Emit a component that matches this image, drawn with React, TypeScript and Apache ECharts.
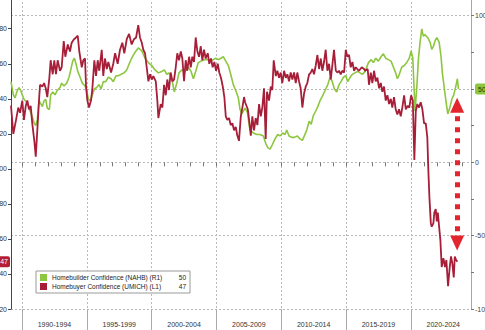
import React, { useEffect, useRef } from "react";
import * as echarts from "echarts";

const FONT = "'Liberation Sans', Arial, sans-serif";
const GREEN = "#8dc63f";
const RED = "#a61e38";
const ARROW_RED = "#e3262e";

const NAHB_NAME = "Homebuilder Confidence (NAHB) (R1)";
const UMICH_NAME = "Homebuyer Confidence (UMICH) (L1)";
const NAHB_LAST = 50;
const UMICH_LAST = 47;

const X_MIN = 1989.15;
const X_MAX = 2024.64;
const yearTicks = [1990, 1991, 1992, 1993, 1994, 1995, 1996, 1997, 1998, 1999, 2000, 2001, 2002, 2003, 2004, 2005, 2006, 2007, 2008, 2009, 2010, 2011, 2012, 2013, 2014, 2015, 2016, 2017, 2018, 2019, 2020, 2021, 2022, 2023, 2024];
const bandEdges = [1990, 1995, 2000, 2005, 2010, 2015, 2020];
const bandCenters = [1992.5, 1997.5, 2002.5, 2007.5, 2012.5, 2017.5, 2022.5];

const LEFT_MIN = 20;
const LEFT_MAX = 202.1;
const RIGHT_MIN = -100;
const RIGHT_MAX = 117.5;

const ARROW_X = 2023.57;
const ARROW_TOP = 39;
const ARROW_BOTTOM = -55;

// NAHB homebuilder confidence (right axis)
const nahbSeries: [number, number][] = [
  [1989.15, 55], [1989.33, 46], [1989.46, 44], [1989.64, 49], [1989.77, 51], [1989.9, 49], [1990.02, 46], [1990.15, 43], [1990.36, 41], [1990.54, 37],
  [1990.75, 32], [1990.93, 27], [1991.06, 25], [1991.18, 29], [1991.31, 42], [1991.44, 40], [1991.57, 38], [1991.7, 42], [1991.83, 43], [1991.95, 37],
  [1992.11, 36], [1992.21, 46], [1992.37, 48], [1992.55, 46], [1992.72, 49], [1992.93, 51], [1993.06, 54], [1993.24, 52], [1993.45, 54], [1993.63, 58],
  [1993.76, 63], [1993.91, 69], [1994.04, 71], [1994.17, 67], [1994.3, 62], [1994.48, 58], [1994.65, 54], [1994.86, 52], [1994.99, 49], [1995.12, 43],
  [1995.3, 42], [1995.42, 46], [1995.58, 50], [1995.76, 51], [1995.94, 53], [1996.1, 50], [1996.27, 55], [1996.46, 55], [1996.66, 58], [1996.87, 57],
  [1997.04, 55], [1997.25, 59], [1997.43, 59], [1997.64, 60], [1997.87, 61], [1998.08, 63], [1998.26, 67], [1998.46, 71], [1998.72, 75], [1998.97, 78],
  [1999.24, 76], [1999.49, 71], [1999.75, 68], [2000.01, 66], [2000.26, 63], [2000.52, 61], [2000.78, 62], [2000.98, 63], [2001.17, 60], [2001.34, 61],
  [2001.55, 57], [2001.75, 48], [2001.94, 54], [2002.11, 61], [2002.32, 63], [2002.58, 62], [2002.83, 65], [2003.04, 62], [2003.22, 57], [2003.4, 62],
  [2003.6, 68], [2003.81, 69], [2004.07, 70], [2004.33, 70], [2004.58, 69], [2004.76, 70], [2004.95, 71], [2005.15, 70], [2005.35, 71], [2005.53, 72],
  [2005.72, 69], [2005.92, 66], [2006.13, 59], [2006.3, 53], [2006.49, 49], [2006.69, 44], [2006.82, 36], [2006.95, 33], [2007.08, 35], [2007.21, 37],
  [2007.39, 34], [2007.47, 29], [2007.59, 22], [2007.85, 20], [2008.11, 19], [2008.36, 19], [2008.62, 18], [2008.8, 13], [2008.96, 10], [2009.14, 9],
  [2009.31, 12], [2009.52, 16], [2009.73, 19], [2009.91, 18], [2010.12, 20], [2010.29, 19], [2010.42, 22], [2010.6, 18], [2010.81, 17], [2011.01, 17],
  [2011.24, 18], [2011.45, 16], [2011.63, 15], [2011.78, 18], [2011.97, 22], [2012.15, 28], [2012.31, 26], [2012.48, 32], [2012.66, 35], [2012.82, 38],
  [2012.99, 42], [2013.17, 45], [2013.38, 49], [2013.59, 53], [2013.77, 58], [2013.94, 55], [2014.1, 50], [2014.28, 48], [2014.46, 53], [2014.61, 55],
  [2014.79, 58], [2014.98, 59], [2015.13, 55], [2015.31, 58], [2015.49, 60], [2015.69, 61], [2015.9, 62], [2016.08, 61], [2016.26, 60], [2016.47, 62],
  [2016.73, 68], [2016.94, 70], [2017.11, 68], [2017.29, 71], [2017.49, 69], [2017.7, 72], [2017.88, 74], [2018.06, 71], [2018.26, 70], [2018.47, 69],
  [2018.65, 65], [2018.83, 61], [2018.96, 57], [2019.11, 60], [2019.3, 65], [2019.5, 66], [2019.68, 68], [2019.88, 71], [2020.02, 76], [2020.15, 71],
  [2020.25, 50], [2020.32, 35], [2020.45, 50], [2020.58, 70], [2020.71, 82], [2020.84, 91], [2020.96, 86], [2021.1, 87], [2021.3, 85], [2021.48, 82],
  [2021.61, 77], [2021.74, 79], [2021.87, 83], [2022.0, 85], [2022.18, 82], [2022.33, 72], [2022.43, 61], [2022.56, 52], [2022.69, 43], [2022.85, 33],
  [2023.0, 37], [2023.16, 43], [2023.31, 46], [2023.47, 52], [2023.59, 57], [2023.67, 50],
];

// UMICH homebuyer confidence (left axis)
const umichSeries: [number, number][] = [
  [1989.15, 136], [1989.33, 120], [1989.54, 128], [1989.71, 135], [1989.85, 132], [1990.02, 139], [1990.15, 128], [1990.29, 136], [1990.41, 139], [1990.54, 134],
  [1990.67, 136], [1990.79, 126], [1990.95, 116], [1991.06, 107], [1991.18, 122], [1991.31, 139], [1991.39, 148], [1991.57, 147], [1991.7, 149], [1991.83, 146],
  [1991.95, 141], [1992.11, 152], [1992.21, 162], [1992.37, 154], [1992.49, 162], [1992.62, 154], [1992.75, 162], [1992.93, 156], [1993.06, 158], [1993.22, 173],
  [1993.34, 164], [1993.53, 171], [1993.7, 167], [1993.83, 172], [1994.01, 174], [1994.17, 175], [1994.3, 176], [1994.42, 167], [1994.61, 158], [1994.73, 162],
  [1994.86, 163], [1994.94, 147], [1995.04, 139], [1995.17, 135], [1995.32, 139], [1995.42, 145], [1995.58, 162], [1995.71, 153], [1995.84, 162], [1995.96, 156],
  [1996.15, 168], [1996.27, 153], [1996.4, 163], [1996.54, 157], [1996.66, 161], [1996.87, 155], [1997.04, 160], [1997.18, 166], [1997.38, 160], [1997.56, 168],
  [1997.74, 172], [1997.89, 166], [1998.08, 174], [1998.26, 177], [1998.46, 171], [1998.64, 174], [1998.8, 175], [1998.97, 182], [1999.1, 175], [1999.24, 172],
  [1999.36, 168], [1999.49, 166], [1999.62, 158], [1999.75, 150], [1999.88, 154], [2000.01, 151], [2000.13, 153], [2000.32, 150], [2000.44, 139], [2000.52, 129],
  [2000.7, 137], [2000.83, 135], [2000.96, 148], [2001.09, 142], [2001.21, 151], [2001.34, 145], [2001.47, 155], [2001.6, 150], [2001.73, 151], [2001.86, 158],
  [2001.98, 166], [2002.11, 162], [2002.25, 167], [2002.37, 163], [2002.5, 150], [2002.63, 162], [2002.75, 156], [2002.89, 164], [2003.02, 158], [2003.14, 164],
  [2003.27, 161], [2003.4, 175], [2003.53, 167], [2003.66, 164], [2003.79, 170], [2003.91, 162], [2004.04, 168], [2004.17, 163], [2004.33, 166], [2004.45, 160],
  [2004.58, 163], [2004.71, 158], [2004.84, 161], [2004.97, 156], [2005.1, 160], [2005.22, 155], [2005.35, 152], [2005.49, 147], [2005.61, 141], [2005.72, 130],
  [2005.84, 128], [2005.97, 129], [2006.1, 125], [2006.23, 126], [2006.36, 122], [2006.49, 124], [2006.61, 119], [2006.74, 116], [2006.88, 130], [2007.0, 135],
  [2007.13, 141], [2007.21, 138], [2007.42, 134], [2007.52, 128], [2007.65, 119], [2007.77, 130], [2007.9, 122], [2008.03, 129], [2008.16, 125], [2008.29, 137],
  [2008.42, 130], [2008.54, 135], [2008.67, 146], [2008.8, 117], [2008.9, 144], [2009.06, 139], [2009.19, 147], [2009.31, 145], [2009.42, 162], [2009.58, 153],
  [2009.7, 156], [2009.83, 152], [2009.96, 155], [2010.08, 149], [2010.22, 156], [2010.35, 152], [2010.47, 154], [2010.6, 150], [2010.73, 155], [2010.86, 151],
  [2010.99, 155], [2011.12, 149], [2011.24, 155], [2011.37, 150], [2011.5, 146], [2011.63, 135], [2011.76, 143], [2011.89, 147], [2012.01, 149], [2012.15, 154],
  [2012.28, 155], [2012.4, 157], [2012.53, 154], [2012.66, 159], [2012.79, 165], [2012.92, 157], [2013.05, 163], [2013.17, 156], [2013.3, 161], [2013.43, 168],
  [2013.56, 156], [2013.69, 160], [2013.82, 151], [2013.94, 159], [2014.07, 168], [2014.21, 156], [2014.33, 155], [2014.46, 156], [2014.59, 154], [2014.71, 156],
  [2014.85, 155], [2014.98, 168], [2015.1, 164], [2015.23, 165], [2015.36, 158], [2015.49, 161], [2015.62, 156], [2015.75, 158], [2015.87, 157], [2016.0, 156],
  [2016.21, 158], [2016.39, 157], [2016.47, 156], [2016.67, 157], [2016.77, 148], [2016.91, 155], [2017.03, 149], [2017.16, 156], [2017.29, 150], [2017.42, 152],
  [2017.55, 146], [2017.68, 149], [2017.8, 144], [2017.93, 147], [2018.06, 139], [2018.19, 142], [2018.32, 137], [2018.45, 140], [2018.57, 135], [2018.7, 141],
  [2018.83, 134], [2018.96, 131], [2019.09, 134], [2019.22, 130], [2019.34, 135], [2019.48, 142], [2019.61, 134], [2019.76, 136], [2019.88, 135], [2020.02, 142],
  [2020.15, 139], [2020.27, 105], [2020.38, 133], [2020.5, 137], [2020.63, 135], [2020.76, 138], [2020.89, 134], [2021.02, 126], [2021.15, 126], [2021.27, 118],
  [2021.35, 99], [2021.43, 84], [2021.54, 69], [2021.61, 67], [2021.74, 69], [2021.81, 75], [2021.92, 77], [2022.0, 70], [2022.08, 75], [2022.18, 67],
  [2022.28, 59], [2022.38, 44], [2022.51, 49], [2022.64, 44], [2022.74, 48], [2022.87, 33], [2023.0, 44], [2023.1, 50], [2023.2, 46], [2023.31, 38],
  [2023.39, 50], [2023.49, 48], [2023.59, 47],
];

const legendValues: Record<string, number> = {
  [NAHB_NAME]: NAHB_LAST,
  [UMICH_NAME]: UMICH_LAST,
};

export default function App() {
  const ref = useRef<HTMLDivElement>(null);

  useEffect(() => {
    document.body.style.margin = "0";
    const chart = echarts.init(ref.current!, null, { renderer: "svg" });
    const gridLine = { color: "#b8b8b8", type: [2, 2] as number[], width: 1 };

    chart.setOption({
      animation: false,
      backgroundColor: "#ffffff",
      textStyle: { fontFamily: FONT },
      grid: { left: 11, right: 14, top: -10, bottom: 21, containLabel: false, outerBoundsMode: "none" },
      legend: {
        show: true,
        left: 36,
        top: 271,
        orient: "vertical",
        itemWidth: 7,
        itemHeight: 7,
        itemGap: 2,
        padding: [3, 4, 3, 4],
        backgroundColor: "#ffffff",
        borderColor: "#9a9a9a",
        borderWidth: 1,
        icon: "rect",
        selectedMode: false,
        data: [{ name: NAHB_NAME }, { name: UMICH_NAME }],
        formatter: (name: string) => `{n|${name}}{v|${legendValues[name]}}`,
        textStyle: {
          fontSize: 6.5,
          color: "#222",
          fontFamily: FONT,
          rich: {
            n: { width: 126, fontSize: 6.5, color: "#222", fontFamily: FONT },
            v: { width: 8, align: "right", fontSize: 6.5, color: "#222", fontFamily: FONT },
          },
        },
      },
      xAxis: [
        {
          type: "value",
          gridIndex: 0,
          position: "bottom",
          min: X_MIN,
          max: X_MAX,
          axisLine: { show: false },
          axisTick: { show: true, customValues: yearTicks, length: 4, lineStyle: { color: "#777" } },
          axisLabel: { show: false },
          splitLine: { show: false },
        },
        {
          type: "value",
          gridIndex: 0,
          position: "bottom",
          min: X_MIN,
          max: X_MAX,
          axisLine: { show: false },
          axisTick: { show: true, customValues: bandEdges, length: 21, lineStyle: { color: "#aaaaaa" } },
          axisLabel: {
            show: true,
            customValues: bandCenters,
            formatter: (v: number) => `${Math.round(v - 2.5)}-${Math.round(v + 1.5)}`,
            margin: 12,
            fontSize: 7,
            color: "#333",
            fontFamily: FONT,
          },
          splitLine: { show: true, lineStyle: gridLine },
        },
      ],
      yAxis: [
        {
          type: "value",
          position: "left",
          min: LEFT_MIN,
          max: LEFT_MAX,
          interval: 20,
          axisLine: { show: true, lineStyle: { color: "#5b3a3a", width: 1 } },
          axisTick: { show: true, length: 3, lineStyle: { color: "#444" } },
          axisLabel: { margin: 4, fontSize: 7, color: "#333", fontFamily: FONT, showMaxLabel: false },
          splitLine: { show: false },
        },
        {
          type: "value",
          position: "right",
          min: RIGHT_MIN,
          max: RIGHT_MAX,
          interval: 50,
          axisLine: { show: true, lineStyle: { color: GREEN, width: 1 } },
          axisTick: { show: true, length: 3, lineStyle: { color: "#777" } },
          minorTick: { show: true, splitNumber: 2, length: 3, lineStyle: { color: "#777" } },
          axisLabel: {
            margin: 4,
            fontSize: 7,
            color: "#444",
            fontFamily: FONT,
            showMaxLabel: false,
            formatter: (v: number) => {
              if (Math.abs(v % 50) > 0.001) return "";
              if (v === NAHB_LAST) return `{hl|${v}}`;
              return String(v);
            },
            rich: {
              hl: {
                backgroundColor: GREEN,
                color: "#1e3a00",
                padding: [2, 3, 2, 3],
                borderRadius: 2,
                fontSize: 7,
                fontFamily: FONT,
              },
            },
          },
          splitLine: { show: true, lineStyle: gridLine },
        },
      ],
      series: [
        {
          name: NAHB_NAME,
          type: "line",
          xAxisIndex: 0,
          yAxisIndex: 1,
          data: nahbSeries,
          symbol: "none",
          showSymbol: false,
          lineStyle: { color: GREEN, width: 1.6 },
          itemStyle: { color: GREEN },
          z: 2,
          markLine: {
            silent: true,
            symbol: ["triangle", "triangle"],
            symbolSize: [14, 15],
            label: { show: false },
            emphasis: { disabled: true },
            lineStyle: { color: ARROW_RED, width: 5, type: [5, 6], opacity: 1 },
            data: [[{ coord: [ARROW_X, ARROW_TOP] }, { coord: [ARROW_X, ARROW_BOTTOM] }]],
          },
        },
        {
          name: UMICH_NAME,
          type: "line",
          xAxisIndex: 0,
          yAxisIndex: 0,
          data: umichSeries,
          symbol: "none",
          showSymbol: false,
          lineStyle: { color: RED, width: 1.8 },
          itemStyle: { color: RED },
          z: 3,
        },
      ],
    });

    const y47 = chart.convertToPixel({ yAxisIndex: 0 } as any, UMICH_LAST) as number;
    chart.setOption({
      graphic: [
        {
          type: "text",
          x: 10,
          y: y47,
          z: 100,
          style: {
            text: String(UMICH_LAST),
            fill: "#ffffff",
            fontSize: 7,
            fontFamily: FONT,
            align: "right",
            verticalAlign: "middle",
            backgroundColor: "#b32036",
            padding: [2, 2, 2, 8],
            borderRadius: 2,
          },
        },
      ],
    });

    return () => chart.dispose();
  }, []);

  return (
    <div
      ref={ref}
      style={{ position: "absolute", left: 0, top: 0, width: 485, height: 330 }}
    />
  );
}
